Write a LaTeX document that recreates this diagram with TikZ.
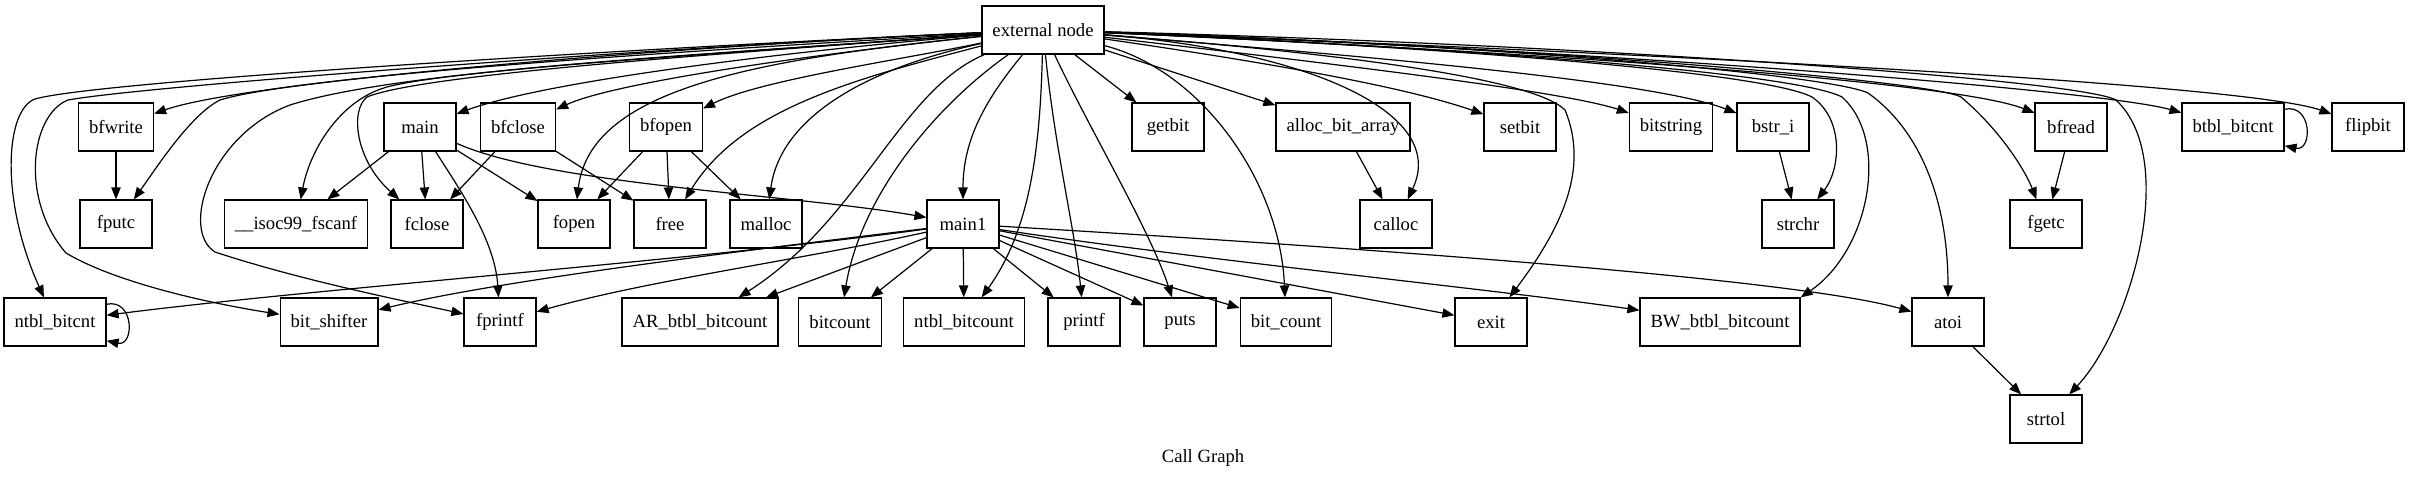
\documentclass[tikz,border=0pt]{standalone}
\usepackage{fontspec}
\setmainfont{Liberation Serif}
\usetikzlibrary{arrows.meta}

\begin{document}
\begin{tikzpicture}[x=0.75pt, y=-0.75pt, line width=0.9pt,
    fn/.style={draw, rectangle, minimum width=54pt, minimum height=36pt,
               inner xsep=7.9pt, inner ysep=3pt, font=\fontsize{14}{16}\selectfont},
    call/.style={-{Triangle[length=9pt,width=7pt]}}]
        \useasboundingbox (0,0) rectangle (2409,480);

        \node[fn] (ext) at (1043,30) {external node};

        \node[fn] (bfwrite) at (116,127) {bfwrite};
        \node[fn] (main) at (420,127) {main};
        \node[fn] (bfclose) at (518,127) {bfclose};
        \node[fn] (bfopen) at (666,127) {bfopen};
        \node[fn] (getbit) at (1168,127) {getbit};
        \node[fn] (allocbitarray) at (1343,127) {alloc\_bit\_array};
        \node[fn] (setbit) at (1520,127) {setbit};
        \node[fn] (bitstring) at (1671,127) {bitstring};
        \node[fn] (bstri) at (1773,127) {bstr\_i};
        \node[fn] (bfread) at (2071,127) {bfread};
        \node[fn] (btblbitcnt) at (2233,127) {btbl\_bitcnt};
        \node[fn] (flipbit) at (2368,127) {flipbit};

        \node[fn] (fputc) at (116,224) {fputc};
        \node[fn] (fscanf) at (296,224) {\_\_isoc99\_fscanf};
        \node[fn] (fclose) at (427,224) {fclose};
        \node[fn] (fopen) at (574,224) {fopen};
        \node[fn] (free) at (670,224) {free};
        \node[fn] (malloc) at (766,224) {malloc};
        \node[fn] (main1) at (963,224) {main1};
        \node[fn] (calloc) at (1396,224) {calloc};
        \node[fn] (strchr) at (1798,224) {strchr};
        \node[fn] (fgetc) at (2046,224) {fgetc};

        \node[fn] (ntblbitcnt) at (55,322) {ntbl\_bitcnt};
        \node[fn] (bitshifter) at (329,322) {bit\_shifter};
        \node[fn] (fprintf) at (500,322) {fprintf};
        \node[fn] (arbtbl) at (700,322) {AR\_btbl\_bitcount};
        \node[fn] (bitcount) at (840,322) {bitcount};
        \node[fn] (ntblbitcount) at (964,322) {ntbl\_bitcount};
        \node[fn] (printf) at (1084,322) {printf};
        \node[fn] (puts) at (1180,322) {puts};
        \node[fn] (bitcnt) at (1286,322) {bit\_count};
        \node[fn] (exit) at (1491,322) {exit};
        \node[fn] (bwbtbl) at (1720,322) {BW\_btbl\_bitcount};
        \node[fn] (atoi) at (1948,322) {atoi};

        \node[fn] (strtol) at (2046,419) {strtol};

        \node[font=\fontsize{14}{16}\selectfont] (title) at (1203,458) {Call Graph};

        % calls from the external node, left side
        \draw[call] (ext) .. controls (700,45) and (100,80) .. (35,99)
                    .. controls (5,110) and (0,200) .. (ntblbitcnt);
        \draw[call] (ext) .. controls (700,45) and (150,85) .. (68,100)
                    .. controls (30,115) and (20,200) .. (66,253)
                    .. controls (120,285) and (220,305) .. (bitshifter);
        \draw[call] (ext) .. controls (700,45) and (250,80) .. (bfwrite);
        \draw[call] (ext) .. controls (700,50) and (300,75) .. (220,100)
                    .. controls (190,115) and (155,170) .. (fputc);
        \draw[call] (ext) .. controls (700,55) and (400,70) .. (290,105)
                    .. controls (210,135) and (180,230) .. (215,252)
                    .. controls (300,280) and (400,300) .. (fprintf);
        \draw[call] (ext) .. controls (700,55) and (450,70) .. (387,87)
                    .. controls (340,100) and (310,150) .. (fscanf);
        \draw[call] (ext) .. controls (700,55) and (420,75) .. (367,97)
                    .. controls (350,110) and (355,160) .. (fclose);
        \draw[call] (ext) .. controls (800,50) and (550,80) .. (main);
        \draw[call] (ext) .. controls (850,50) and (620,80) .. (bfclose);
        \draw[call] (ext) .. controls (900,60) and (760,80) .. (bfopen);
        \draw[call] (ext) .. controls (750,60) and (590,90) .. (fopen);
        \draw[call] (ext) .. controls (850,80) and (740,110) .. (free);
        \draw[call] (ext) .. controls (860,70) and (780,120) .. (malloc);
        \draw[call] (ext) .. controls (900,90) and (860,220) .. (arbtbl);
        \draw[call] (ext) .. controls (930,110) and (860,200) .. (bitcount);
        \draw[call] (ext) .. controls (985,100) and (963,140) .. (main1);

        % calls from the external node, middle and right side
        \draw[call] (ext) .. controls (1040,150) and (1030,230) .. (ntblbitcount);
        \draw[call] (ext) .. controls (1055,150) and (1075,230) .. (printf);
        \draw[call] (ext) .. controls (1090,130) and (1150,230) .. (puts);
        \draw[call] (ext) -- (getbit);
        \draw[call] (ext) .. controls (1200,70) and (1280,180) .. (bitcnt);
        \draw[call] (ext) -- (allocbitarray);
        \draw[call] (ext) .. controls (1300,50) and (1450,110) .. (calloc);
        \draw[call] (ext) .. controls (1250,60) and (1400,85) .. (setbit);
        \draw[call] (ext) .. controls (1300,50) and (1530,75) .. (1565,110)
                    .. controls (1590,170) and (1560,230) .. (exit);
        \draw[call] (ext) .. controls (1300,60) and (1560,90) .. (bitstring);
        \draw[call] (ext) .. controls (1350,55) and (1650,80) .. (bstri);
        \draw[call] (ext) .. controls (1400,45) and (1760,70) .. (1812,97)
                    .. controls (1845,120) and (1840,170) .. (strchr);
        \draw[call] (ext) .. controls (1400,45) and (1790,70) .. (1842,97)
                    .. controls (1890,140) and (1870,250) .. (bwbtbl.north east);
        \draw[call] (ext) .. controls (1500,45) and (1830,75) .. (1868,93)
                    .. controls (1920,130) and (1948,200) .. (atoi);
        \draw[call] (ext) .. controls (1500,50) and (1950,80) .. (bfread);
        \draw[call] (ext) .. controls (1500,45) and (1930,80) .. (1961,97)
                    .. controls (2000,130) and (2025,170) .. (fgetc);
        \draw[call] (ext) .. controls (1600,45) and (2080,80) .. (2116,100)
                    .. controls (2180,160) and (2130,330) .. (strtol);
        \draw[call] (ext) .. controls (1600,50) and (2100,90) .. (btblbitcnt);
        \draw[call] (ext) .. controls (1700,55) and (2250,85) .. (flipbit);

        \draw[call] (btblbitcnt.19) .. controls +(28,-6) and +(28,6) .. (btblbitcnt.-20);
        \draw[call] (ntblbitcnt.19) .. controls +(28,-6) and +(28,6) .. (ntblbitcnt.-20);

        % second level calls
        \draw[call] (bfwrite) -- (fputc);
        \draw[call] (main) -- (fscanf);
        \draw[call] (main) -- (fclose);
        \draw[call] (main) -- (fopen);
        \draw[call] (main) .. controls (460,190) and (495,240) .. (fprintf);
        \draw[call] (main) .. controls (550,185) and (800,195) .. (main1);
        \draw[call] (bfclose) -- (fclose);
        \draw[call] (bfclose) -- (free);
        \draw[call] (bfopen) -- (fopen);
        \draw[call] (bfopen) -- (free);
        \draw[call] (bfopen) -- (malloc);
        \draw[call] (allocbitarray) -- (calloc);
        \draw[call] (bstri) -- (strchr);
        \draw[call] (bfread) -- (fgetc);
        \draw[call] (atoi) -- (strtol);

        \draw[call] (main1) .. controls (700,260) and (300,290) .. (ntblbitcnt);
        \draw[call] (main1) .. controls (750,250) and (500,280) .. (bitshifter);
        \draw[call] (main1) .. controls (800,260) and (650,280) .. (fprintf);
        \draw[call] (main1) -- (arbtbl);
        \draw[call] (main1) -- (bitcount);
        \draw[call] (main1) -- (ntblbitcount);
        \draw[call] (main1) -- (printf);
        \draw[call] (main1) -- (puts);
        \draw[call] (main1) -- (bitcnt);
        \draw[call] (main1) -- (exit);
        \draw[call] (main1) .. controls (1200,260) and (1500,290) .. (bwbtbl);
        \draw[call] (main1) .. controls (1400,250) and (1800,280) .. (atoi);
\end{tikzpicture}
\end{document}
